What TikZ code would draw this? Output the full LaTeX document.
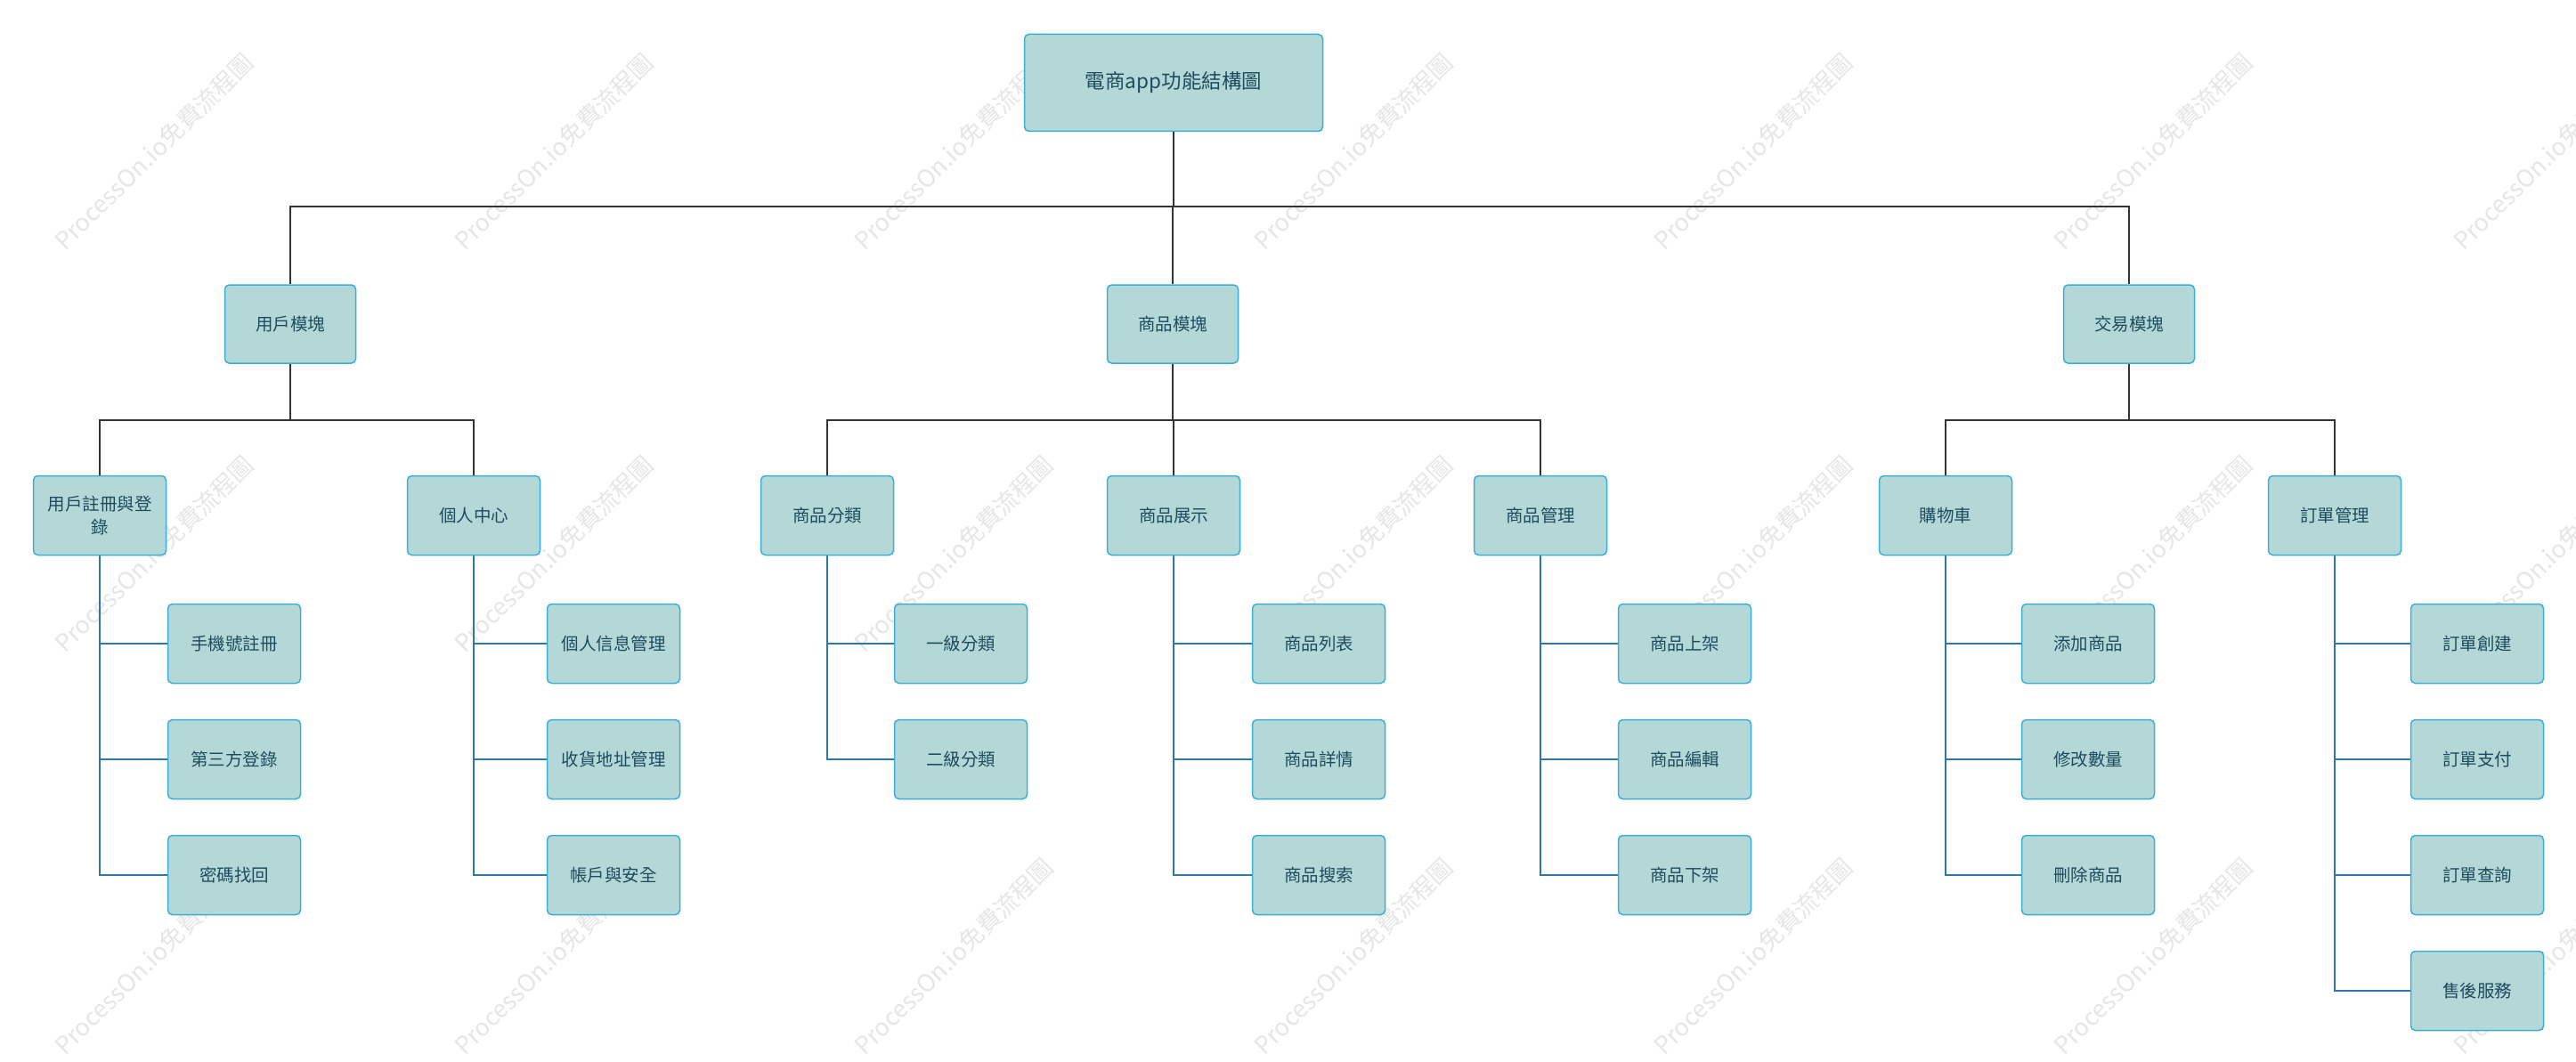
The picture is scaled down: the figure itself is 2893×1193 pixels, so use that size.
\documentclass[tikz,border=0pt]{standalone}
\usepackage{fontspec}
\setmainfont{Noto Sans CJK TC}
\usetikzlibrary{calc}
\definecolor{boxfill}{HTML}{B4D8D7}
\definecolor{boxline}{HTML}{3AAED4}
\definecolor{txtcol}{HTML}{1E4B5E}
\definecolor{darkline}{HTML}{333333}
\definecolor{blueline}{HTML}{2E78A2}
\definecolor{wmcol}{HTML}{E6E6E6}
\pgfdeclarelayer{bglayer}
\pgfdeclarelayer{wmlayer}
\pgfdeclarelayer{linelayer}
\pgfsetlayers{bglayer,wmlayer,linelayer,main}
\begin{document}
\begin{tikzpicture}[x=1pt,y=-1pt,
  box/.style={draw=boxline, line width=1.5pt, fill=boxfill, rounded corners=5pt,
    text=txtcol, font=\fontsize{19.5}{26}\selectfont, minimum width=149pt,
    minimum height=89pt, inner sep=0pt, align=center},
  rootbox/.style={box, minimum width=335pt, minimum height=109pt, font=\fontsize{22.5}{28}\selectfont},
  modbox/.style={box, minimum width=147pt, minimum height=88pt},
  darkconn/.style={draw=darkline, line width=2.2pt},
  blueconn/.style={draw=blueline, line width=2.5pt},
  wmtext/.style={text=wmcol, font=\fontsize{27}{28}\selectfont, rotate=44.5, inner sep=0pt}
]
\useasboundingbox (0,0) rectangle (2893,1193);
\begin{pgfonlayer}{bglayer}
\fill[white] (0,0) rectangle (2893,1193);
\end{pgfonlayer}

% watermarks
\begin{pgfonlayer}{wmlayer}
\foreach \i in {0,...,6}{
  \foreach \j in {0,1,2}{
    \node[wmtext] (wm-\i-\j) at ({173+449*\i},{170+452*\j}) {ProcessOn.io免費流程圖};
  }
}
\end{pgfonlayer}

% root
\node[rootbox] (root) at (1318,93) {電商app功能結構圖};

% modules
\node[modbox] (mu) at (326,364) {用戶模塊};
\node[modbox] (mp) at (1317,364) {商品模塊};
\node[modbox] (mt) at (2391,364) {交易模塊};

% level 2
\node[box] (u1) at (112,579) {用戶註冊與登\\錄};
\node[box] (u2) at (532,579) {個人中心};
\node[box] (p1) at (929,579) {商品分類};
\node[box] (p2) at (1318,579) {商品展示};
\node[box] (p3) at (1730,579) {商品管理};
\node[box] (t1) at (2185,579) {購物車};
\node[box] (t2) at (2622,579) {訂單管理};

% level 3
\node[box] (u1a) at (263,723) {手機號註冊};
\node[box] (u1b) at (263,853) {第三方登錄};
\node[box] (u1c) at (263,983) {密碼找回};

\node[box] (u2a) at (689,723) {個人信息管理};
\node[box] (u2b) at (689,853) {收貨地址管理};
\node[box] (u2c) at (689,983) {帳戶與安全};

\node[box] (p1a) at (1079,723) {一級分類};
\node[box] (p1b) at (1079,853) {二級分類};

\node[box] (p2a) at (1481,723) {商品列表};
\node[box] (p2b) at (1481,853) {商品詳情};
\node[box] (p2c) at (1481,983) {商品搜索};

\node[box] (p3a) at (1892,723) {商品上架};
\node[box] (p3b) at (1892,853) {商品編輯};
\node[box] (p3c) at (1892,983) {商品下架};

\node[box] (t1a) at (2345,723) {添加商品};
\node[box] (t1b) at (2345,853) {修改數量};
\node[box] (t1c) at (2345,983) {刪除商品};

\node[box] (t2a) at (2782,723) {訂單創建};
\node[box] (t2b) at (2782,853) {訂單支付};
\node[box] (t2c) at (2782,983) {訂單查詢};
\node[box] (t2d) at (2782,1113) {售後服務};

\coordinate (bar1) at (0,232);
\coordinate (bar2) at (0,472);

\begin{pgfonlayer}{linelayer}
% root to modules
\foreach \c in {mu,mp,mt}{
  \draw[darkconn] (root.south) -- (root.south |- bar1) -| (\c.north);
}
% modules to level 2
\foreach \c in {u1,u2}{
  \draw[darkconn] (mu.south) -- (mu.south |- bar2) -| (\c.north);
}
\foreach \c in {p1,p2,p3}{
  \draw[darkconn] (mp.south) -- (mp.south |- bar2) -| (\c.north);
}
\foreach \c in {t1,t2}{
  \draw[darkconn] (mt.south) -- (mt.south |- bar2) -| (\c.north);
}
% level 2 to level 3
\foreach \p/\c in {u1/u1a,u1/u1b,u1/u1c,u2/u2a,u2/u2b,u2/u2c,
                   p1/p1a,p1/p1b,p2/p2a,p2/p2b,p2/p2c,p3/p3a,p3/p3b,p3/p3c,
                   t1/t1a,t1/t1b,t1/t1c,t2/t2a,t2/t2b,t2/t2c,t2/t2d}{
  \draw[blueconn] (\p.south) |- (\c.west);
}
\end{pgfonlayer}
\end{tikzpicture}
\end{document}
